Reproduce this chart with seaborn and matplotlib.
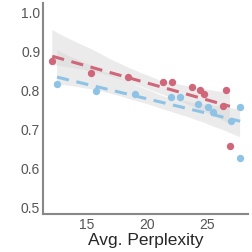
"""
Nuage de points avec régressions (perplexité moyenne vs score), seaborn.
"""

import matplotlib
matplotlib.use("Agg")
import matplotlib.pyplot as plt
import seaborn as sns

# series rouge
red_x = [12.1, 15.3, 18.4, 21.3, 22.1, 23.75, 24.4, 24.75, 26.3, 26.6, 26.9]
red_y = [0.874, 0.843, 0.833, 0.820, 0.820, 0.807, 0.800, 0.790, 0.758, 0.800, 0.655]

# series bleue
blue_x = [12.5, 15.75, 19.0, 22.0, 22.7, 24.25, 25.1, 25.5, 27.0, 27.7, 27.75]
blue_y = [0.815, 0.797, 0.790, 0.780, 0.780, 0.763, 0.756, 0.743, 0.720, 0.756, 0.625]

x_ticks = [15, 20, 25]
y_ticks = [0.5, 0.6, 0.7, 0.8, 0.9, 1.0]

sns.set_style("white")
plt.rcParams['font.family'] = ['Liberation Sans', 'DejaVu Sans']

fig = plt.figure(figsize=(2.53, 2.53), dpi=100)
ax = fig.add_axes([0.17, 0.15, 0.81, 0.834])

for xs, ys, col in [(red_x, red_y, "#cf6679"), (blue_x, blue_y, "#8ec3e6")]:
    sns.regplot(x=xs, y=ys, ax=ax, color=col, ci=92, seed=1,
                scatter_kws={"s": 28, "alpha": 1, "linewidths": 0, "zorder": 3},
                line_kws={"linestyle": (0, (4, 2.5)), "linewidth": 2.2, "zorder": 4})

# bandes de confiance grises
for coll in ax.collections:
    if coll.__class__.__name__ in ("PolyCollection", "FillBetweenPolyCollection"):
        coll.set_facecolor("#d9d9d9")
        coll.set_alpha(0.5)
        coll.set_edgecolor("none")
        coll.set_zorder(1)

ax.set_xlim(11.33, 28.4)
ax.set_ylim(0.48, 1.023)
ax.set_xticks(x_ticks)
ax.set_yticks(y_ticks)
ax.set_yticklabels([f"{v:.1f}" for v in y_ticks])
ax.tick_params(length=0, labelsize=10, labelcolor="#555555", pad=2)
ax.set_xlabel("Avg. Perplexity", fontsize=12.5, labelpad=1)

sns.despine(ax=ax)
for side in ("left", "bottom"):
    ax.spines[side].set_color("#888888")
    ax.spines[side].set_linewidth(1.5)

plt.savefig("out.png", dpi=100)
